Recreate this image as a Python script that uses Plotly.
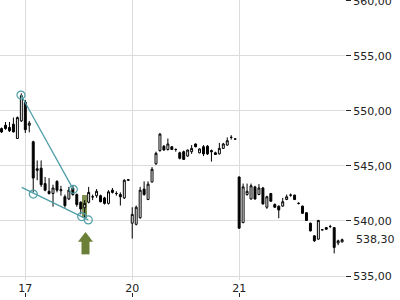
import plotly.graph_objects as go

# ---- data (30-min candles, 27 per trading day) ----
day_labels = ["17", "20", "21"]
day_start_idx = [6, 33, 60]

opens = [548.4, 548.7, 548.5, 548.8, 547.5, 549.1,
         550.8, 548.7, 547.2, 544.6, 544.8, 543.4, 542.7, 542.5, 543.6, 542.75,
         542.2, 542.0, 543.0, 542.4, 541.7, 541.2, 541.7, 542.2, 542.3, 542.3,
         542.1, 541.6, 542.8, 542.5, 542.4, 542.1, 543.7,
         539.8, 539.7, 540.3, 542.9, 541.95, 543.55, 545.2, 546.4, 546.8, 546.5,
         546.75, 546.5, 546.2, 546.3, 545.9, 546.3, 547.0, 546.2, 546.75, 546.8,
         546.4, 546.2, 546.1, 546.6, 546.9, 547.6, 547.45,
         544.0, 539.85, 542.4, 542.0, 543.1, 542.4, 543.0, 541.25, 542.5, 541.5,
         541.35, 541.35, 541.95, 542.35, 542.35, 541.6, 541.35, 540.75, 539.8,
         538.65, 538.35, 539.2, 539.4, 539.5, 539.4, 538.0, 538.1]
highs = [548.5, 549.0, 549.0, 549.4, 549.5, 551.6,
         551.0, 549.1, 547.3, 545.5, 545.5, 544.0, 543.9, 543.3, 543.7, 543.2,
         542.4, 543.1, 543.2, 542.5, 541.8, 541.9, 543.1, 542.4, 542.9, 542.4,
         542.2, 542.8, 543.0, 542.7, 542.6, 543.8, 543.8,
         541.25, 541.4, 543.1, 543.6, 543.6, 544.9, 546.3, 548.0, 546.9, 547.5,
         546.8, 546.6, 546.3, 546.4, 546.5, 546.9, 547.05, 546.6, 546.9, 546.9,
         546.5, 546.3, 547.1, 547.1, 547.6, 547.8, 547.5,
         544.05, 543.4, 543.4, 543.4, 543.2, 543.35, 543.1, 542.3, 542.55, 541.6,
         541.4, 542.1, 542.4, 542.5, 542.4, 541.7, 541.4, 540.8, 539.85,
         538.7, 540.1, 539.25, 539.45, 539.65, 539.45, 538.3, 538.4]
lows = [548.0, 548.3, 548.1, 548.05, 547.5, 549.0,
        548.0, 548.06, 542.6, 543.7, 543.1, 542.7, 542.4, 541.3, 542.6, 542.3,
        541.2, 541.9, 542.3, 541.3, 540.6, 540.1, 541.6, 541.9, 542.1, 541.7,
        541.5, 541.5, 542.5, 542.3, 541.4, 542.0, 543.65,
        538.4, 539.6, 540.2, 542.3, 541.9, 543.5, 545.1, 546.3, 546.4, 546.4,
        546.45, 546.3, 545.6, 545.55, 545.85, 546.1, 546.7, 546.15, 545.9, 546.0,
        545.4, 546.0, 546.05, 546.55, 546.85, 547.4, 547.4,
        539.3, 539.8, 542.3, 541.95, 541.95, 542.35, 541.5, 541.1, 541.75, 541.2,
        540.25, 541.3, 541.9, 542.2, 541.9, 541.5, 540.65, 540.0, 539.05,
        538.1, 538.3, 539.15, 539.2, 539.35, 537.05, 537.8, 538.05]
closes = [548.1, 548.4, 548.2, 548.1, 549.4, 551.4,
          548.3, 548.9, 543.9, 544.75, 543.3, 542.8, 542.5, 543.0, 542.8, 542.85,
          541.4, 542.8, 542.4, 541.5, 541.1, 541.6, 542.6, 542.2, 542.7, 541.75,
          541.6, 542.65, 542.6, 542.5, 542.2, 543.7, 543.75,
          540.6, 541.25, 542.8, 542.4, 543.35, 544.7, 546.15, 547.9, 546.45, 547.0,
          546.5, 546.5, 545.7, 545.6, 546.45, 546.6, 546.75, 546.55, 546.1, 546.1,
          546.3, 546.05, 546.6, 547.0, 547.3, 547.6, 547.45,
          539.35, 543.1, 542.7, 543.2, 542.0, 543.0, 541.55, 542.2, 541.8, 541.25,
          541.0, 541.75, 542.2, 542.35, 541.95, 541.6, 540.7, 540.05, 539.1,
          538.2, 540.05, 539.2, 539.25, 539.5, 537.6, 538.2, 538.3]
x_idx = list(range(len(opens)))

# pattern points (circles) and trend lines
pattern_x = [4.91, 8.02, 18.12, 20.24, 21.9]
pattern_y = [551.45, 542.45, 542.88, 540.4, 540.1]
upper_line_x = [4.91, 18.12]
upper_line_y = [551.45, 542.88]
lower_line_x = [5.09, 21.9]
lower_line_y = [543.06, 540.1]

# buy signal
signal_x = 21.0
signal_low = 540.25
signal_high = 542.4
arrow_x = 21.2
arrow_head_y = 538.41
arrow_shaft_y = 537.73

y_ticks = [535, 540, 545, 550, 555, 560]
last_price = 538.30

FONT = "DejaVu Sans"
TEAL = "#4f9ea7"
OLIVE = "#6b7f36"


def fmt(v):
    return f"{v:.2f}".replace(".", ",")


fig = go.Figure()

fig.add_trace(go.Bar(
    x=[signal_x], y=[signal_high - signal_low], base=[signal_low], width=1.15,
    marker=dict(color="rgba(107,127,54,0.85)", line=dict(width=0)),
    hoverinfo="skip"))

fig.add_trace(go.Candlestick(
    x=x_idx, open=opens, high=highs, low=lows, close=closes,
    increasing=dict(line=dict(color="black", width=1), fillcolor="white"),
    decreasing=dict(line=dict(color="black", width=1), fillcolor="black"),
    whiskerwidth=0, hoverinfo="skip"))

fig.add_trace(go.Scatter(x=upper_line_x, y=upper_line_y, mode="lines",
                         line=dict(color=TEAL, width=1.3), hoverinfo="skip"))
fig.add_trace(go.Scatter(x=lower_line_x, y=lower_line_y, mode="lines",
                         line=dict(color=TEAL, width=1.3), hoverinfo="skip"))
fig.add_trace(go.Scatter(x=pattern_x, y=pattern_y, mode="markers",
                         marker=dict(symbol="circle-open", size=8,
                                     line=dict(color=TEAL, width=1.2), color=TEAL),
                         hoverinfo="skip"))

# arrow: shaft + head
fig.add_trace(go.Scatter(x=[arrow_x], y=[arrow_shaft_y], mode="markers",
                         marker=dict(symbol="line-ns", size=12,
                                     line=dict(color=OLIVE, width=8)),
                         hoverinfo="skip"))
fig.add_trace(go.Scatter(x=[arrow_x], y=[arrow_head_y], mode="markers",
                         marker=dict(symbol="triangle-up", size=13, color=OLIVE,
                                     line=dict(width=0)),
                         hoverinfo="skip"))

# dummy trace for the secondary x axis (small tick marks at the bottom)
fig.add_trace(go.Scatter(x=[], y=[], xaxis="x2", yaxis="y", hoverinfo="skip"))

x_range = [-0.39, 86.73]

fig.update_layout(
    width=400, height=300,
    margin=dict(l=0, r=55, t=0, b=0, autoexpand=False),
    paper_bgcolor="white", plot_bgcolor="white",
    showlegend=False,
    font=dict(family=FONT, size=11, color="#222"),
    xaxis=dict(range=x_range, tickvals=day_start_idx, ticktext=day_labels,
               showgrid=True, gridcolor="#dcdcdc", gridwidth=1, zeroline=False,
               ticks="", showline=False, rangeslider=dict(visible=False),
               automargin=False,
               tickfont=dict(family=FONT, size=11, color="#222")),
    xaxis2=dict(range=x_range, overlaying="x", anchor="free", position=0.01,
                side="bottom", tickvals=day_start_idx, ticks="inside", ticklen=4,
                tickcolor="#222", showticklabels=False, showgrid=False,
                zeroline=False, showline=False, automargin=False),
    yaxis=dict(domain=[20 / 300, 1], range=[534.636, 560.09], side="right",
               tickvals=y_ticks, ticktext=[fmt(v) for v in y_ticks],
               showgrid=True, gridcolor="#dcdcdc", gridwidth=1, zeroline=False,
               ticks="outside", ticklen=5, tickcolor="#222", showline=False,
               ticklabeloverflow="allow", automargin=False,
               tickfont=dict(family=FONT, size=11, color="#222")),
    bargap=0,
    annotations=[dict(x=1, xref="paper", y=last_price, yref="y",
                      text=fmt(last_price), showarrow=False, xanchor="left",
                      xshift=9, font=dict(family=FONT, size=11, color="#222"))],
)

fig.write_html("out.html")
